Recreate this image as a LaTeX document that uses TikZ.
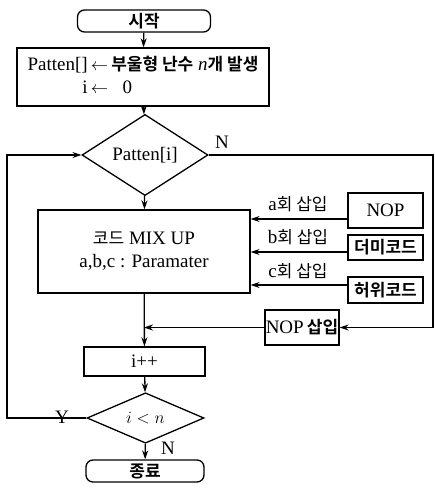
\documentclass[tikz,border=0pt]{standalone}
\usepackage{fontspec}
\setmainfont{Liberation Serif}
\newfontfamily\kr{Noto Sans CJK KR}[BoldFont={* Bold}]
\newcommand\ko[1]{{\kr\fontsize{17}{21}\selectfont #1}}
\newcommand\kob[1]{{\kr\bfseries\fontsize{17}{21}\selectfont #1}}
\usetikzlibrary{positioning,arrows.meta,calc,shapes.geometric}

\begin{document}
\begin{tikzpicture}[x=1pt,y=-1pt,>={Stealth[length=9pt,width=6pt]},
		every node/.style={font=\fontsize{19}{23}\selectfont},
		line/.style={line width=1.3pt},
		block/.style={draw,line width=1.3pt,rectangle,inner sep=0pt},
		term/.style={draw,line width=1.3pt,rounded corners=7pt,inner sep=0pt},
		cond/.style={draw,line width=1.3pt,diamond,inner sep=0pt}]
		
		\useasboundingbox (0,0) rectangle (434,489);
		
		% Main flow
		\node[term,minimum width=133pt,minimum height=22pt] (start) at (144,21) {\kob{시작}};
		\node[block,minimum width=252pt,minimum height=58pt] (init) at (143,77)
		{\begin{tabular}{@{}r@{\,}c@{\,}l@{}}
				Patten[] & $\leftarrow$ & \kob{부울형 난수} \textit{n}\kob{개 발생}\\
				i & $\leftarrow$ & \hspace{0.6em}0
		\end{tabular}};
		\node[cond,minimum width=126pt,minimum height=49pt] (pat) at (145,155) {Patten[i]};
		\node[block,minimum width=212pt,minimum height=83pt,align=center] (mix) at (144,251.5)
		{\ko{코드} MIX UP\\a,b,c : Paramater};
		\node[block,minimum width=121pt,minimum height=29pt] (inc) at (144.5,361.5) {i++};
		\node[cond,minimum width=117pt,minimum height=40pt] (cmp) at (145.5,418) {$i<n$};
		\node[term,minimum width=118pt,minimum height=22pt] (end) at (145,471) {\kob{종료}};
		
		% Inserted code
		\node[block,minimum width=75pt,minimum height=35pt] (nop) at (385.5,210.5) {NOP};
		\node[block,minimum width=75pt,minimum height=25pt] (dummy) at (385.5,247.5) {\kob{더미코드}};
		\node[block,minimum width=75pt,minimum height=26pt] (fake) at (385.5,290) {\kob{허위코드}};
		\node[block,minimum width=74pt,minimum height=35pt] (nopins) at (302,327.5) {NOP\,\kob{삽입}};
		
		% Labels
		\node (la) at (298,204) {a\ko{회 삽입}};
		\node (lb) at (298,237) {b\ko{회 삽입}};
		\node (lc) at (298,271) {c\ko{회 삽입}};
		\node (nright) at (222,142) {N};
		\node (ndown) at (168,448) {N};
		\node (yleft) at (62,417) {Y};
		
		\coordinate (ya) at (0,219);
		\coordinate (yb) at (0,252);
		\coordinate (yc) at (0,285);
		\coordinate (rt) at (433,155);
		\coordinate (lf) at (7,0);
		
		% Arrows
		\draw[line,->] (start) -- (init);
		\draw[line,->] (init) -- (pat);
		\draw[line,->] (pat) -- (mix);
		\draw[line,->] (mix) -- (inc);
		\draw[line,->] (inc) -- (cmp);
		\draw[line,->] (cmp) -- (end);
		
		\draw[line,->] (nop.west |- ya) -- (mix.east |- ya);
		\draw[line,->] (dummy.west |- yb) -- (mix.east |- yb);
		\draw[line,->] (fake.west |- yc) -- (mix.east |- yc);
		
		\draw[line,->] (pat.east) -- (rt) |- (nopins.east);
		\draw[line,->] (nopins.west) -- (nopins.west -| mix.south);
		
		\draw[line,->] (cmp.west) -- (cmp.west -| lf) |- (pat.west);
		
	\end{tikzpicture}
\end{document}
